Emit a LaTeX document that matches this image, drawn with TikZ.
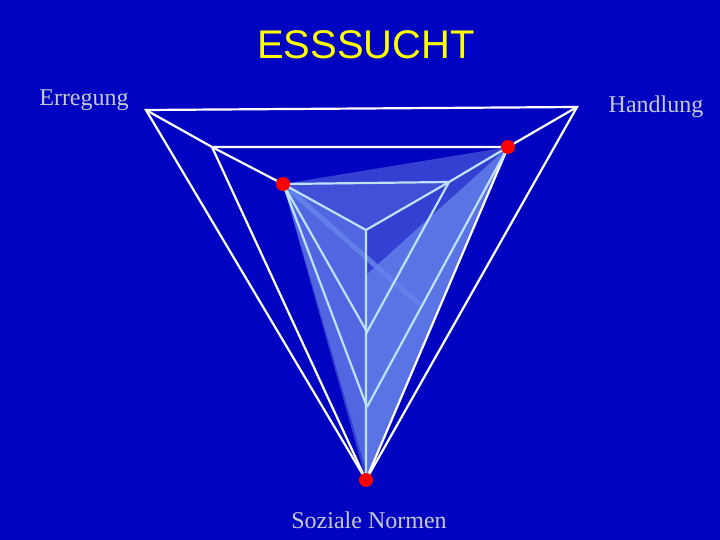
\documentclass[tikz,border=0pt]{standalone}
\usepackage{fontspec}
\setmainfont{Liberation Serif}
\newfontfamily\sansf{Liberation Sans}
\begin{document}
\begin{tikzpicture}[x=1pt,y=-1pt,
  outer/.style={white,line width=2.2pt},
  inner/.style={color={rgb,255:red,190;green,225;blue,255},line width=2.2pt},
  dot/.style={circle,fill=red,inner sep=0pt,minimum size=14pt},
  lbl/.style={text={rgb,255:red,200;green,200;blue,210},font=\fontsize{24}{28}\selectfont}]
\definecolor{bg}{RGB}{0,4,192}
\definecolor{fa}{RGB}{64,80,215}
\definecolor{fb}{RGB}{100,130,235}
\fill[bg] (0,0) rectangle (720,540);
\useasboundingbox (0,0) rectangle (720,540);
\coordinate (A1) at (146,110);
\coordinate (B1) at (577,107);
\coordinate (C) at (366,480);
\coordinate (A2) at (212,147);
\coordinate (B2) at (508,147);
\coordinate (R1) at (283,184);
\coordinate (D) at (449,182);
\coordinate (F) at (366,230);
\coordinate (G) at (367,332);
\coordinate (E) at (367,407);
% fills
\fill[fa,opacity=0.8] (R1) -- (B2) -- (C) -- cycle;
\fill[fa] (R1) -- (D) -- (F) -- cycle;
\fill[fb,opacity=0.8] (B2) -- (366,275) -- (366,400) -- (C) -- cycle;
\fill[fb,opacity=0.6] (R1) -- (366,230) -- (366,470) -- cycle;
\draw[fb,line width=5pt,opacity=0.9] (R1) -- (420,305);
% outer frame
\draw[outer] (A1) -- (B1) -- (C) -- cycle;
\draw[outer] (A2) -- (B2) (A2) -- (C) (B2) -- (C);
\draw[outer] (A1) -- (A2) -- (R1);
\draw[outer] (B1) -- (B2);
% inner
\draw[inner] (R1) -- (D) (B2) -- (D) -- (F) (R1) -- (F) (F) -- (C);
\draw[inner] (R1) -- (G) -- (D) (R1) -- (E) (B2) -- (E);
\node[dot] (n1) at (R1) {};
\node[dot] (n2) at (B2) {};
\node[dot] (n3) at (C) {};
\node[text={rgb,255:red,255;green,255;blue,0},font=\sansf\fontsize{40}{44}\selectfont] (t) at (366,45) {ESSSUCHT};
\node[lbl] (l1) at (84,100) {Erregung};
\node[lbl] (l2) at (656,107) {Handlung};
\node[lbl] (l3) at (369,520) {Soziale Normen};
\end{tikzpicture}
\end{document}
